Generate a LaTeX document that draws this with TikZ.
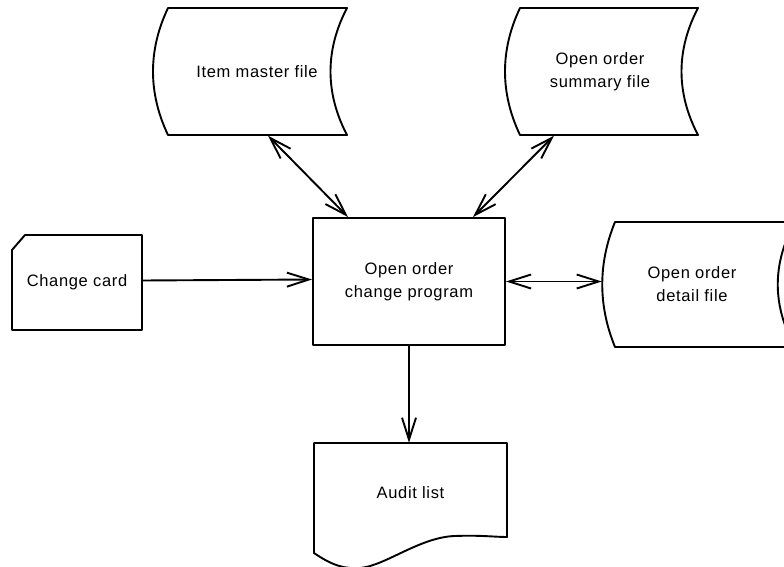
\documentclass[tikz,border=0pt]{standalone}
\usepackage{fontspec}
\setmainfont{Liberation Sans}[LetterSpace=4]
\usetikzlibrary{arrows.meta}
\tikzset{
  base/.style={line width=1.9pt, line join=round},
  lbl/.style={draw=none, align=center, font=\fontsize{16.5}{23}\selectfont, inner sep=0pt},
  flow/.style={base, -{Straight Barb[length=22pt,width=14pt]}},
  flow2/.style={base, {Straight Barb[length=22pt,width=14pt]}-{Straight Barb[length=22pt,width=14pt]}},
}
\begin{document}
\begin{tikzpicture}[x=1pt,y=-1pt]
\useasboundingbox (0,0) rectangle (784,567);
\clip (0,0) rectangle (784,567);
% nodes
\node[lbl, minimum width=179pt, minimum height=127pt] (imf) at (257,72) {Item master file};
\node[lbl, minimum width=178pt, minimum height=127pt] (osf) at (600,72) {Open order\\summary file};
\node[lbl, minimum width=154pt, minimum height=125pt] (odf) at (692,284.5) {Open order\\detail file};
\node[lbl, draw, base, minimum width=192pt, minimum height=127pt] (prog) at (409,281.5) {Open order\\change program};
\node[lbl, minimum width=130pt, minimum height=95pt] (card) at (77,282.5) {Change card};
\node[lbl, minimum width=193pt, minimum height=100pt] (aud) at (410.5,493) {Audit list};
% shapes
\draw[base, shift={(imf.center)}] (-89,-64) -- (90,-64) .. controls (68,-22) and (68,21) .. (90,63) -- (-89,63) .. controls (-109,21) and (-109,-22) .. cycle;
\draw[base, shift={(osf.center)}] (-80,-64) -- (98,-64) .. controls (76,-22) and (76,21) .. (98,63) -- (-80,63) .. controls (-100,21) and (-100,-22) .. cycle;
\draw[base, shift={(odf.center)}] (-77,-62.5) -- (103,-62.5) .. controls (80,-21) and (80,21) .. (103,62.5) -- (-77,62.5) .. controls (-94,21) and (-94,-21) .. cycle;
\draw[base, shift={(card.center)}] (-52,-47.5) -- (65,-47.5) -- (65,47.5) -- (-65,47.5) -- (-65,-32.5) -- cycle;
\draw[base, shift={(aud.center)}] (-96.5,60) -- (-96.5,-50) -- (96.5,-50) -- (96.5,44) .. controls (84.5,44) and (69.5,42) .. (44.5,43) .. controls (9.5,44) and (-25.5,73) .. (-50.5,75) .. controls (-65.5,76) and (-77.5,73) .. cycle;
% connectors
\coordinate (odfin) at ([xshift=-13pt]odf.west);
\draw[flow2] ([xshift=11pt]imf.south) -- ([xshift=-61pt]prog.north);
\draw[flow2] ([xshift=-46pt]osf.south) -- ([xshift=64pt]prog.north);
\draw[flow] ([yshift=2pt]card.east) -- ([yshift=2pt]prog.west);
\draw[flow2] (prog.east) -- (prog.east -| odfin);
\draw[flow] (prog.south) -- (prog.south |- aud.north);
\end{tikzpicture}
\end{document}
